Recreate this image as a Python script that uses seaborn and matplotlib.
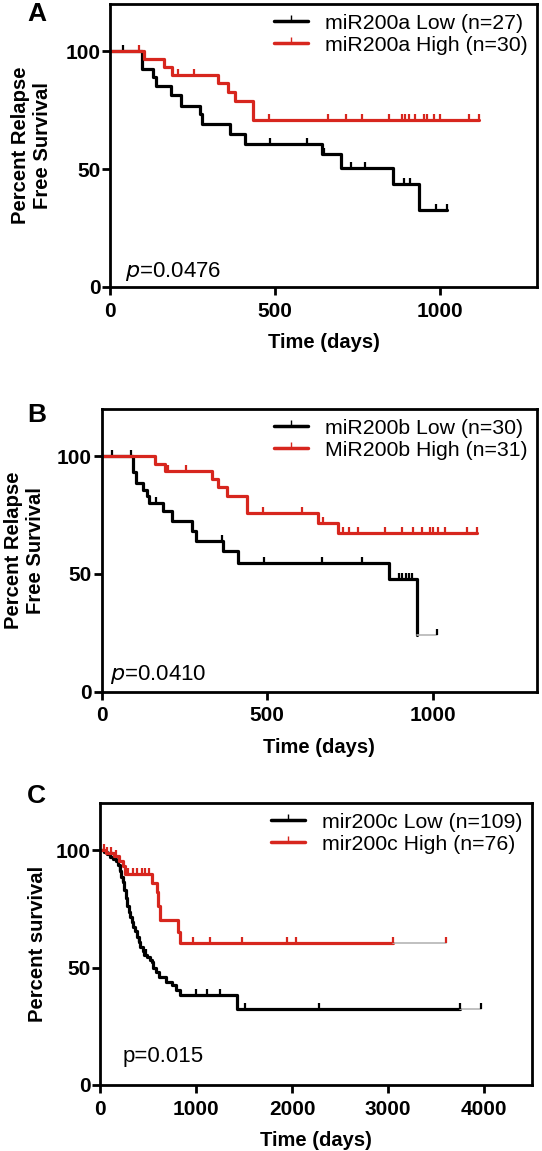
import numpy as np
import pandas as pd
import matplotlib
matplotlib.use("Agg")
import matplotlib.pyplot as plt
import seaborn as sns
from matplotlib.lines import Line2D

# ---------------- data ----------------
# Panel A
a_low_t = [96, 129, 139, 186, 214, 273, 280, 363, 408, 642, 700, 856, 937]
a_low_s = [92.6, 89.2, 85.3, 81.3, 76.8, 73.5, 69.2, 65.0, 60.7, 56.4, 50.3, 43.6, 32.5]
a_low_end = 1020
a_low_cens = [38, 484, 597, 648, 730, 773, 889, 909, 988, 1020]
a_high_t = [102, 164, 189, 327, 356, 378, 434]
a_high_s = [96.7, 93.3, 90.0, 86.3, 82.5, 78.8, 71.0]
a_high_end = 1116
a_high_cens = [89, 206, 255, 481, 660, 715, 763, 844, 884, 894, 904, 924, 950, 960, 980, 1000, 1086, 1116]

# Panel B
b_low_t = [95, 103, 126, 136, 144, 186, 211, 272, 285, 367, 413, 869, 952]
b_low_s = [93.3, 88.4, 85.8, 83.0, 80.2, 76.6, 72.3, 68.1, 63.8, 59.6, 54.6, 48.0, 24.1]
b_low_end = 952
b_low_gray_end = 1013
b_low_cens = [32, 87, 164, 363, 491, 664, 787, 898, 908, 918, 928, 938, 1013]
b_high_t = [161, 191, 332, 352, 379, 438, 654, 715]
b_high_s = [96.8, 93.6, 90.2, 86.8, 83.2, 75.9, 71.7, 67.4]
b_high_end = 1133
b_high_cens = [201, 255, 488, 604, 668, 728, 748, 775, 856, 906, 941, 967, 992, 1002, 1017, 1037, 1103, 1133]

# Panel C
c_low_t = [40, 70, 100, 130, 160, 180, 200, 220, 235, 250, 265, 280, 295, 310, 330, 345,
           365, 380, 400, 416, 440, 460, 490, 520, 535, 552, 580, 614, 680, 743, 790, 830, 1421]
c_low_s = [99.1, 98.2, 97.2, 96.3, 95.4, 93.5, 91.0, 88.5, 86.5, 83.0, 79.5, 76.0, 73.5, 71.5, 69.5, 67.4,
           65.5, 63.0, 61.0, 58.6, 57.0, 55.3, 54.4, 53.2, 52.5, 49.6, 48.0, 46.1, 44.0, 42.6, 40.5, 38.3, 32.2]
c_low_end = 3750
c_low_gray_end = 3976
c_low_cens = [110, 165, 205, 240, 400, 480, 997, 1108, 1247, 1508, 2283, 3750, 3976]
c_high_t = [60, 145, 199, 235, 253, 542, 586, 604, 622, 813, 831]
c_high_s = [98.6, 97.3, 95.4, 93.2, 90.0, 86.0, 82.2, 76.2, 70.4, 65.0, 60.5]
c_high_end = 3048
c_high_gray_end = 3611
c_high_cens = [37, 73, 109, 163, 290, 344, 380, 434, 470, 506, 962, 1143, 1473, 1943, 2040, 3048, 3611]

labels_a = ["miR200a Low (n=27)", "miR200a High (n=30)"]
labels_b = ["miR200b Low (n=30)", "MiR200b High (n=31)"]
labels_c = ["mir200c Low (n=109)", "mir200c High (n=76)"]
yticks = [0, 50, 100]
xticks_ab = [0, 500, 1000]
xticks_c = [0, 1000, 2000, 3000, 4000]

# ---------------- style ----------------
sns.set_theme(style="ticks")
plt.rcParams["font.family"] = ["Liberation Sans", "DejaVu Sans"]
plt.rcParams["text.color"] = "black"
plt.rcParams["axes.labelcolor"] = "black"
plt.rcParams["xtick.color"] = "black"
plt.rcParams["ytick.color"] = "black"
plt.rcParams["xtick.labelcolor"] = "black"
plt.rcParams["ytick.labelcolor"] = "black"
RED = "#d7261e"
BLACK = "#000000"
GRAY = "#b5b5b5"
FS_TICK = 15.0
FS_LEG = 15.3

W, H = 542, 1151
fig = plt.figure(figsize=(W / 100, H / 100), dpi=100)


def add_ax(left, right, top, bottom):
    return fig.add_axes([left / W, 1 - bottom / H, (right - left) / W, (bottom - top) / H])


def level_at(t_drop, s_drop, t):
    times = np.array([0] + list(t_drop))
    levels = np.array([100] + list(s_drop))
    idx = np.searchsorted(times, t, side="right") - 1
    return levels[idx]


def draw_curve(ax, t, s, end, cens, color, gray_end=None):
    xs = [0] + list(t) + [end]
    ys = [100] + list(s) + [s[-1]]
    df = pd.DataFrame({"time": xs, "surv": ys})
    sns.lineplot(data=df, x="time", y="surv", estimator=None, sort=False,
                 drawstyle="steps-post", color=color, lw=2.3, ax=ax, legend=False)
    if gray_end is not None:
        gdf = pd.DataFrame({"time": [end, gray_end], "surv": [s[-1], s[-1]]})
        sns.lineplot(data=gdf, x="time", y="surv", estimator=None, sort=False,
                     color=GRAY, lw=1.2, ax=ax, legend=False)
    cy = level_at(t, s, np.array(cens))
    ax.plot(cens, cy, ls="none", marker=2, ms=4.5, mew=1.6, color=color)


def style_ax(ax, xlim, xticks, ylabel, ylab_x, letter, letter_xy, ptext, pxy, legend_labels):
    ax.set_xlim(*xlim)
    ax.set_ylim(0, 120)
    ax.set_xticks(xticks)
    ax.set_yticks(yticks)
    for sp in ax.spines.values():
        sp.set_visible(True)
        sp.set_linewidth(2.0)
        sp.set_color("black")
    ax.tick_params(axis="both", which="both", direction="out", length=5.5, width=2.0,
                   colors="black", labelcolor="black", labelsize=FS_TICK)
    ax.tick_params(axis="y", pad=1.5)
    ax.tick_params(axis="x", pad=5)
    for lab in ax.get_xticklabels() + ax.get_yticklabels():
        lab.set_fontweight("bold")
    ax.set_xlabel("Time (days)", fontsize=14.5, fontweight="bold", labelpad=9, color="black")
    ax.set_ylabel("")
    ax.text(ylab_x, 0.5, ylabel, transform=ax.transAxes, rotation=90, ha="center",
            va="center", fontsize=14.6, fontweight="bold", linespacing=1.15,
            multialignment="center", color="black")
    fig.text(letter_xy[0] / W, 1 - letter_xy[1] / H, letter, fontsize=19,
             fontweight="bold", ha="center", va="center", color="black")
    ax.text(pxy[0], pxy[1], ptext, transform=ax.transAxes, fontsize=16,
            ha="left", va="baseline", color="black")
    handles = [Line2D([0], [0], color=BLACK, lw=2.5, marker=2, ms=4.5, mew=1.0),
               Line2D([0], [0], color=RED, lw=2.5, marker=2, ms=4.5, mew=1.0)]
    leg = ax.legend(handles, legend_labels, loc="upper right", frameon=False, fontsize=FS_LEG,
                    handlelength=1.6, handletextpad=0.8, labelspacing=0.15,
                    borderaxespad=0.25, borderpad=0.2, numpoints=1)
    for txt in leg.get_texts():
        txt.set_color("black")
    ax.set_facecolor("white")
    ax.grid(False)


# Panel A
axA = add_ax(110, 537, 4, 287)
draw_curve(axA, a_low_t, a_low_s, a_low_end, a_low_cens, BLACK)
draw_curve(axA, a_high_t, a_high_s, a_high_end, a_high_cens, RED)
style_ax(axA, (0, 1293), xticks_ab, "Percent Relapse\nFree Survival", (31.5 - 110) / 427,
         "A", (37, 14), r"$\it{p}$=0.0476", (0.035, 0.035), labels_a)

# Panel B
axB = add_ax(101.7, 536.7, 409, 691.7)
draw_curve(axB, b_low_t, b_low_s, b_low_end, b_low_cens, BLACK, gray_end=b_low_gray_end)
draw_curve(axB, b_high_t, b_high_s, b_high_end, b_high_cens, RED)
style_ax(axB, (0, 1314), xticks_ab, "Percent Relapse\nFree Survival", (24.5 - 101.7) / 435,
         "B", (37, 415), r"$\it{p}$=0.0410", (0.02, 0.041), labels_b)

# Panel C
axC = add_ax(100.4, 531.7, 803, 1085)
draw_curve(axC, c_low_t, c_low_s, c_low_end, c_low_cens, BLACK, gray_end=c_low_gray_end)
draw_curve(axC, c_high_t, c_high_s, c_high_end, c_high_cens, RED, gray_end=c_high_gray_end)
style_ax(axC, (0, 4500), xticks_c, "Percent survival", (37.5 - 100.4) / 431,
         "C", (36, 796), "p=0.015", (0.052, 0.083), labels_c)

fig.savefig("out.png", dpi=100, facecolor="white")
